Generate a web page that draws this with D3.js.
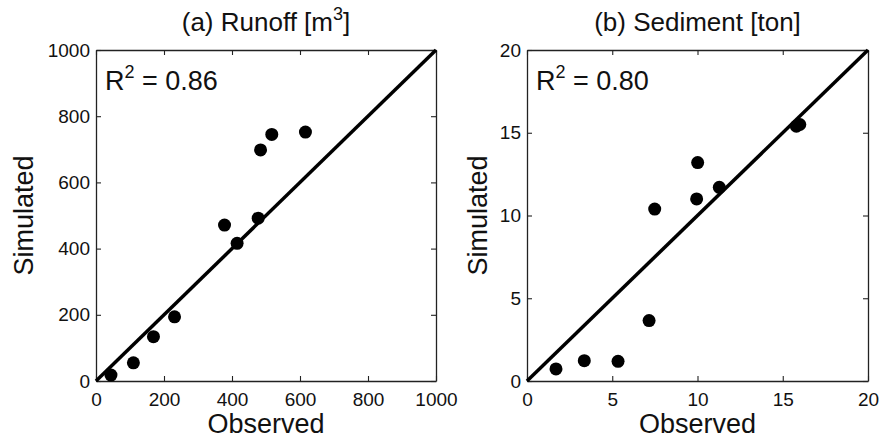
<!DOCTYPE html>
<html>
<head>
<meta charset="utf-8">
<script src="https://cdn.jsdelivr.net/npm/d3@7"></script>
<style>
  body { margin: 0; background: #fff; }
  text { font-family: "Liberation Sans", Arial, Helvetica, sans-serif; fill: #111; }
</style>
</head>
<body>
<svg id="area" width="881" height="440"></svg>
<script>
const runoffObs = [44, 110, 169, 231, 378, 415, 477, 484, 517, 616];
const runoffSim = [18, 55, 134, 194, 471, 416, 492, 698, 745, 752];
const runoffTicks = [0, 200, 400, 600, 800, 1000];

const sedObs = [1.7, 3.36, 5.34, 7.16, 7.49, 9.95, 10.01, 11.28, 15.8, 16.0];
const sedSim = [0.73, 1.23, 1.19, 3.65, 10.39, 11.0, 13.2, 11.7, 15.4, 15.5];
const sedTicks = [0, 5, 10, 15, 20];

const titles = ['(a) Runoff [m', '(b) Sediment [ton]'];
const r2 = ['0.86', '0.80'];

const svg = d3.select('#area');

const panels = [
  { obs: runoffObs, sim: runoffSim, ticks: runoffTicks, max: 1000, left: 96, right: 436, ylab: 63, title: titles[0], sup: '3', r2: r2[0] },
  { obs: sedObs, sim: sedSim, ticks: sedTicks, max: 20, left: 527, right: 868, ylab: 40, title: titles[1], sup: null, r2: r2[1] },
];
const plotTop = 50;
const plotBottom = 381;

panels.forEach((p) => {
  const x = d3.scaleLinear().domain([0, p.max]).range([p.left, p.right]);
  const y = d3.scaleLinear().domain([0, p.max]).range([plotBottom, plotTop]);
  const g = svg.append('g');
  const fmt = d3.format('d');

  // frame with inward ticks on all four sides
  const styleAxis = (sel) => {
    sel.select('.domain').attr('stroke', '#222').attr('stroke-width', 1.3);
    sel.selectAll('.tick line').attr('stroke', '#222').attr('stroke-width', 1.1);
    sel.selectAll('.tick text')
      .style('font-size', '19px')
      .attr('fill', '#111');
  };

  g.append('g')
    .attr('transform', `translate(0, ${plotBottom})`)
    .call(d3.axisBottom(x).tickValues(p.ticks).tickFormat(fmt).tickSizeInner(-5).tickSizeOuter(0).tickPadding(12))
    .call(styleAxis)
    .selectAll('.tick text').attr('dy', '0.71em');

  g.append('g')
    .attr('transform', `translate(0, ${plotTop})`)
    .call(d3.axisTop(x).tickValues(p.ticks).tickSizeInner(-5).tickSizeOuter(0).tickFormat(''))
    .call(styleAxis);

  g.append('g')
    .attr('transform', `translate(${p.left}, 0)`)
    .call(d3.axisLeft(y).tickValues(p.ticks).tickFormat(fmt).tickSizeInner(-5).tickSizeOuter(0).tickPadding(6))
    .call(styleAxis);

  g.append('g')
    .attr('transform', `translate(${p.right}, 0)`)
    .call(d3.axisRight(y).tickValues(p.ticks).tickSizeInner(-5).tickSizeOuter(0).tickFormat(''))
    .call(styleAxis);

  // 1:1 line
  g.append('line')
    .attr('x1', x(0)).attr('y1', y(0))
    .attr('x2', x(p.max)).attr('y2', y(p.max))
    .attr('stroke', '#000')
    .attr('stroke-width', 3.5);

  g.selectAll('circle')
    .data(p.obs.map((o, i) => ({ o, s: p.sim[i] })))
    .enter().append('circle')
    .attr('cx', (d) => x(d.o))
    .attr('cy', (d) => y(d.s))
    .attr('r', 6.5)
    .attr('fill', '#000');

  // title
  const t = g.append('text')
    .attr('x', (p.left + p.right) / 2)
    .attr('y', 31)
    .attr('text-anchor', 'middle')
    .style('font-size', '26px')
    .text(p.title);
  if (p.sup) {
    t.append('tspan').attr('dy', -11).style('font-size', '18px').text(p.sup);
    t.append('tspan').attr('dy', 11).text(']');
  }

  // R squared
  const r = g.append('text')
    .attr('x', p.left + 9)
    .attr('y', 90)
    .style('font-size', '27px')
    .text('R');
  r.append('tspan').attr('dy', -12).style('font-size', '18px').text('2');
  r.append('tspan').attr('dy', 12).text(` = ${p.r2}`);

  g.append('text')
    .attr('x', (p.left + p.right) / 2)
    .attr('y', 433)
    .attr('text-anchor', 'middle')
    .style('font-size', '27px')
    .text('Observed');

  g.append('text')
    .attr('transform', `translate(${p.left - p.ylab}, ${(plotTop + plotBottom) / 2}) rotate(-90)`)
    .attr('text-anchor', 'middle')
    .style('font-size', '27px')
    .text('Simulated');
});
</script>
</body>
</html>
